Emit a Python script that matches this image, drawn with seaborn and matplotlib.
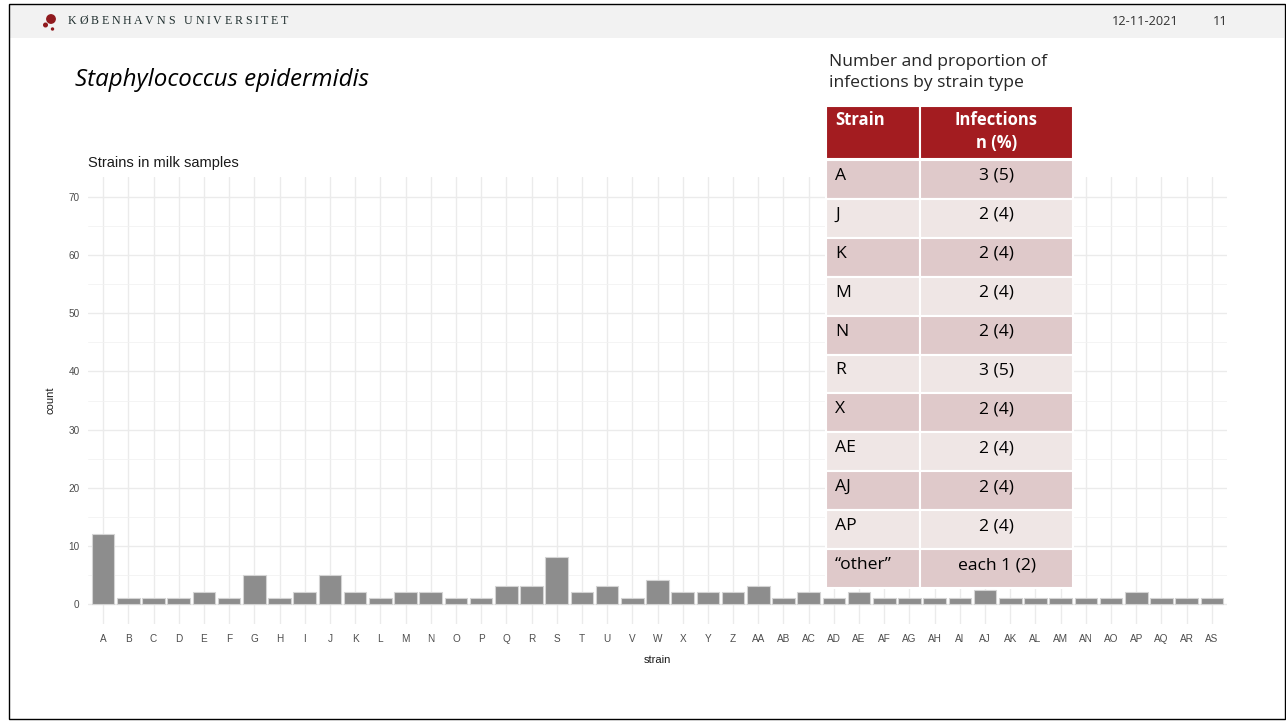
import matplotlib
matplotlib.use("Agg")
import matplotlib.pyplot as plt
import seaborn as sns
import pandas as pd
from matplotlib.patches import Rectangle, Circle

# ---------------- data ----------------
strains = ["A", "B", "C", "D", "E", "F", "G", "H", "I", "J", "K", "L", "M", "N", "O",
           "P", "Q", "R", "S", "T", "U", "V", "W", "X", "Y", "Z", "AA", "AB", "AC", "AD",
           "AE", "AF", "AG", "AH", "AI", "AJ", "AK", "AL", "AM", "AN", "AO", "AP", "AQ", "AR", "AS"]
counts = [12, 1, 1, 1, 2, 1, 5, 1, 2, 5, 2, 1, 2, 2, 1,
          1, 3, 3, 8, 2, 3, 1, 4, 2, 2, 2, 3, 1, 2, 1,
          2, 1, 1, 1, 1, 2.4, 1, 1, 1, 1, 1, 2, 1, 1, 1]
y_ticks = [0, 10, 20, 30, 40, 50, 60, 70]

table_strains = ["A", "J", "K", "M", "N", "R", "X", "AE", "AJ", "AP", "\u201cother\u201d"]
table_values = ["3 (5)", "2 (4)", "2 (4)", "2 (4)", "2 (4)", "3 (5)", "2 (4)",
                "2 (4)", "2 (4)", "2 (4)", "each 1 (2)"]
table_header = ["Strain", "Infections", "n (%)"]

df = pd.DataFrame({"strain": strains, "count": counts})

# ---------------- figure ----------------
sns.set_theme(style="white")
plt.rcParams["font.family"] = ["Liberation Sans", "DejaVu Sans"]

W, H = 1286, 721
fig = plt.figure(figsize=(W / 100, H / 100), dpi=100)
fig.patch.set_facecolor("white")

# chart axes
l, r, b, t = 88, 1227, 624, 177
ax = fig.add_axes([l / W, (H - b) / H, (r - l) / W, (b - t) / H])
ax.set_facecolor("white")
sns.barplot(data=df, x="strain", y="count", color="#8d8d8d", saturation=1,
            width=0.9, edgecolor="#d4d4d4", linewidth=0.8, ax=ax, zorder=3)
ax.set_xlim(-0.6, len(strains) - 0.4)
ax.set_ylim(-3.5, 73.5)
ax.set_yticks(y_ticks)
ax.set_yticks([5, 15, 25, 35, 45, 55, 65], minor=True)
ax.grid(True, which="major", color="#ebebeb", linewidth=1.0, zorder=0)
ax.grid(True, which="minor", axis="y", color="#f2f2f2", linewidth=0.6, zorder=0)
for s in ax.spines.values():
    s.set_visible(False)
ax.tick_params(axis="both", which="both", length=0, colors="#4d4d4d", labelsize=7.2)
ax.tick_params(axis="x", pad=7)
ax.tick_params(axis="y", pad=6)
ax.set_xlabel("strain", fontsize=8, color="#1a1a1a", labelpad=8)
ax.set_ylabel("count", fontsize=8, color="#1a1a1a", labelpad=9)
ax.set_title("Strains in milk samples", fontsize=10.5, color="#1a1a1a", loc="left", pad=7)

# overlay axes in pixel coordinates
ov = fig.add_axes([0, 0, 1, 1], zorder=10)
ov.set_xlim(0, W)
ov.set_ylim(H, 0)
ov.axis("off")
ov.patch.set_alpha(0)

# slide header band & border
ov.add_patch(Rectangle((9, 4), W - 11, 34, facecolor="#f2f2f2", edgecolor="none"))
ov.add_patch(Rectangle((8.5, 3.5), W - 10, H - 6, facecolor="none", edgecolor="black", linewidth=1))
ov.add_patch(Circle((51, 19), 4.2, color="#901a1e"))
ov.add_patch(Circle((45.5, 25), 1.8, color="#901a1e"))
ov.add_patch(Circle((52.5, 29), 1.0, color="#901a1e"))

# letter-spaced university name
uni = "KØBENHAVNS UNIVERSITET"
fig.canvas.draw()
renderer = fig.canvas.get_renderer()
x = 68.0
tracking = 2.7
for ch in uni:
    tt = ov.text(x, 21.5, ch, fontsize=8.6, family="Liberation Serif", color="#1f2e2e",
                 va="center", ha="left", weight="bold" if False else "normal")
    bb = tt.get_window_extent(renderer=renderer)
    wch = bb.width if ch != " " else 4.0
    x += wch + tracking

ov.text(1112, 21.5, "12-11-2021", fontsize=9.2, family="Open Sans", color="#333333", va="center")
ov.text(1213, 21.5, "11", fontsize=9.2, family="Open Sans", color="#333333", va="center")

ov.text(75, 80, "Staphylococcus epidermidis", fontsize=17.4, family="Open Sans",
        style="italic", color="black", va="center", ha="left")

# table title
fs = 12.6
ov.text(829, 62, "Number and proportion of", fontsize=fs, family="Open Sans", va="center")
ov.text(829, 83, "infections by strain type", fontsize=fs, family="Open Sans", va="center")

# table
tx0, tx1, tx2 = 826, 920, 1073
hy0, hy1 = 106, 159
row_h = (588 - 160) / len(table_strains)
red = "#a31c20"
ov.add_patch(Rectangle((tx0, hy0), tx1 - tx0, hy1 - hy0, facecolor=red, edgecolor="white", linewidth=1.5))
ov.add_patch(Rectangle((tx1, hy0), tx2 - tx1, hy1 - hy0, facecolor=red, edgecolor="white", linewidth=1.5))
ov.text(tx0 + 9, 120, table_header[0], fontsize=fs * 0.95, family="Open Sans", weight="bold",
        color="white", va="center", ha="left")
ov.text((tx1 + tx2) / 2, 120, table_header[1], fontsize=fs * 0.95, family="Open Sans", weight="bold",
        color="white", va="center", ha="center")
ov.text((tx1 + tx2) / 2, 143, table_header[2], fontsize=fs * 0.95, family="Open Sans", weight="bold",
        color="white", va="center", ha="center")
for i, (s, v) in enumerate(zip(table_strains, table_values)):
    y0 = 160 + i * row_h
    fc = "#dfc9ca" if i % 2 == 0 else "#efe6e5"
    ov.add_patch(Rectangle((tx0, y0), tx1 - tx0, row_h, facecolor=fc, edgecolor="white", linewidth=1.5))
    ov.add_patch(Rectangle((tx1, y0), tx2 - tx1, row_h, facecolor=fc, edgecolor="white", linewidth=1.5))
    yc = y0 + row_h * 0.41
    ov.text(tx0 + 9, yc, s, fontsize=fs, family="Open Sans", color="black", va="center", ha="left")
    ov.text((tx1 + tx2) / 2, yc, v, fontsize=fs, family="Open Sans", color="black",
            va="center", ha="center")

fig.savefig("out.png", dpi=100)
